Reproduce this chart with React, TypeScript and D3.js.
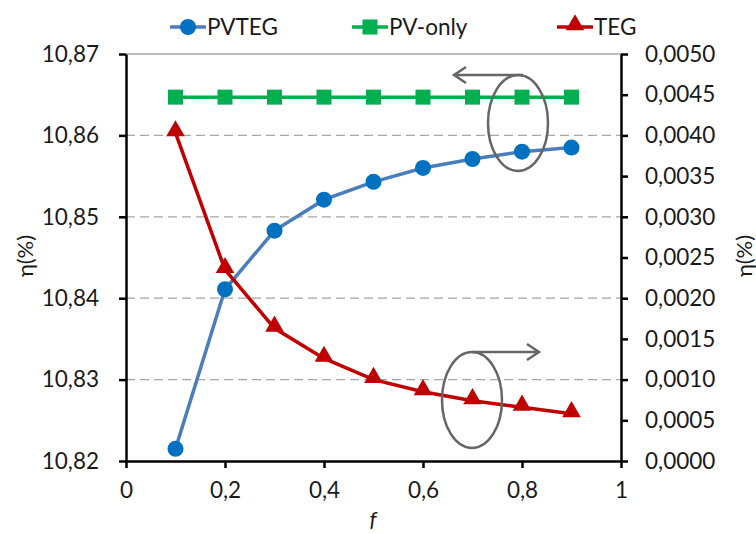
import React, { useRef, useEffect } from "react";
import * as d3 from "d3";

// chart data
const fValues = [0.1, 0.2, 0.3, 0.4, 0.5, 0.6, 0.7, 0.8, 0.9];
const pvtegValues = [10.8215, 10.8411, 10.8483, 10.8521, 10.8543, 10.856, 10.8571, 10.858, 10.8585];
const pvOnlyValues = [10.8647, 10.8647, 10.8647, 10.8647, 10.8647, 10.8647, 10.8647, 10.8647, 10.8647];
const tegValues = [0.00403, 0.00235, 0.00163, 0.00126, 0.001, 0.00085, 0.00074, 0.00066, 0.00058];
const leftTicks = [10.82, 10.83, 10.84, 10.85, 10.86, 10.87];
const rightTicks = [0, 0.0005, 0.001, 0.0015, 0.002, 0.0025, 0.003, 0.0035, 0.004, 0.0045, 0.005];
const xTicks = [0, 0.2, 0.4, 0.6, 0.8, 1];

const FONT = "Lato, 'Noto Sans', sans-serif";

const App = () => {
  const svgRef = useRef<SVGSVGElement>(null);

  useEffect(() => {
    const width = 756;
    const height = 534;
    const svg = d3.select(svgRef.current);
    svg.selectAll("*").remove();

    const left = 126;
    const right = 621;
    const top = 54;
    const bottom = 461;

    const x = d3.scaleLinear().domain([0, 1]).range([left, right]);
    const yL = d3.scaleLinear().domain([10.82, 10.87]).range([bottom, top]);
    const yR = d3.scaleLinear().domain([0, 0.005]).range([bottom, top]);
    const comma = (s: string) => s.replace(".", ",");

    // grid lines
    svg
      .append("g")
      .selectAll("line")
      .data(leftTicks.slice(1))
      .join("line")
      .attr("x1", left)
      .attr("x2", right)
      .attr("y1", (d) => yL(d))
      .attr("y2", (d) => yL(d))
      .attr("stroke", "#a6a6a6")
      .attr("stroke-width", 1.3)
      .attr("stroke-dasharray", (d) => (d === 10.87 ? null : "9,5"));

    // axes
    const axisL = svg.append("g").attr("transform", `translate(${left},0)`).call(
      d3.axisLeft(yL).tickValues(leftTicks).tickSize(7).tickSizeOuter(0).tickFormat((d) => comma(d3.format(".2f")(d as number)))
    );
    const axisR = svg.append("g").attr("transform", `translate(${right},0)`).call(
      d3.axisRight(yR).tickValues(rightTicks).tickSize(7).tickSizeOuter(0).tickFormat((d) => comma(d3.format(".4f")(d as number)))
    );
    const axisB = svg.append("g").attr("transform", `translate(0,${bottom})`).call(
      d3.axisBottom(x).tickValues(xTicks).tickSize(7).tickSizeOuter(0).tickFormat((d) => comma(String(d)))
    );
    [axisL, axisR, axisB].forEach((a) => {
      a.selectAll("path").attr("stroke", "#000").attr("stroke-width", 2.5);
      a.selectAll("line").attr("stroke", "#000").attr("stroke-width", 2.5);
      a.selectAll("text").attr("font-family", FONT).attr("font-size", 22.5).attr("fill", "#1a1a1a");
    });
    axisL.selectAll("text").attr("x", -27);
    axisR.selectAll("text").attr("x", 24);
    axisB.selectAll("text").attr("y", 21);

    // axis titles
    svg.append("text").attr("transform", `translate(25,256) rotate(-90)`).attr("text-anchor", "middle").attr("dy", "0.35em")
      .attr("font-family", FONT).attr("font-size", 22).attr("fill", "#1a1a1a").text("η(%)");
    svg.append("text").attr("transform", `translate(744,256) rotate(-90)`).attr("text-anchor", "middle").attr("dy", "0.35em")
      .attr("font-family", FONT).attr("font-size", 22).attr("fill", "#1a1a1a").text("η(%)");
    svg.append("text").attr("x", 373).attr("y", 527).attr("text-anchor", "middle")
      .attr("font-family", FONT).attr("font-style", "italic").attr("font-size", 22).attr("fill", "#1a1a1a").text("f");

    const tri = d3.symbol().type(d3.symbolTriangle).size(150);

    const series = [
      { vals: pvOnlyValues, y: yL, line: "#00b050", mark: "#00b050", shape: "square" },
      { vals: pvtegValues, y: yL, line: "#4a7ebb", mark: "#0070c0", shape: "circle" },
      { vals: tegValues, y: yR, line: "#c00000", mark: "#c00000", shape: "triangle" },
    ];

    series.forEach((s) => {
      const line = d3.line<number>().x((d, i) => x(fValues[i])).y((d) => s.y(d));
      svg.append("path").attr("d", line(s.vals)).attr("fill", "none").attr("stroke", s.line).attr("stroke-width", 3.5);
      const g = svg.append("g");
      s.vals.forEach((v, i) => {
        const cx = x(fValues[i]);
        const cy = s.y(v);
        if (s.shape === "circle") g.append("circle").attr("cx", cx).attr("cy", cy).attr("r", 8).attr("fill", s.mark);
        else if (s.shape === "square") g.append("rect").attr("x", cx - 7.5).attr("y", cy - 7.5).attr("width", 15).attr("height", 15).attr("fill", s.mark);
        else g.append("path").attr("d", tri()).attr("transform", `translate(${cx},${cy - 2})`).attr("fill", s.mark);
      });
    });

    // annotations: ellipses with arrows
    const ann = svg.append("g").attr("stroke", "#666").attr("stroke-width", 2.5).attr("fill", "none");
    ann.append("ellipse").attr("cx", 518).attr("cy", 123).attr("rx", 30).attr("ry", 48);
    ann.append("path").attr("d", "M523,75 H454 M466,67 L454,75 L466,83");
    ann.append("ellipse").attr("cx", 472).attr("cy", 400).attr("rx", 30).attr("ry", 48);
    ann.append("path").attr("d", "M472,352 H539 M527,344 L539,352 L527,360");

    // legend
    const legend = [
      { label: "PVTEG", x: 170, line: "#4a7ebb", mark: "#0070c0", shape: "circle" },
      { label: "PV-only", x: 352, line: "#00b050", mark: "#00b050", shape: "square" },
      { label: "TEG", x: 557, line: "#c00000", mark: "#c00000", shape: "triangle" },
    ];
    const lg = svg.append("g");
    legend.forEach((l) => {
      const cy = 27;
      lg.append("line").attr("x1", l.x).attr("x2", l.x + 36).attr("y1", cy).attr("y2", cy).attr("stroke", l.line).attr("stroke-width", 3.5);
      const cx = l.x + 18;
      if (l.shape === "circle") lg.append("circle").attr("cx", cx).attr("cy", cy).attr("r", 8).attr("fill", l.mark);
      else if (l.shape === "square") lg.append("rect").attr("x", cx - 7.5).attr("y", cy - 7.5).attr("width", 15).attr("height", 15).attr("fill", l.mark);
      else lg.append("path").attr("d", tri()).attr("transform", `translate(${cx},${cy - 2})`).attr("fill", l.mark);
      lg.append("text").attr("x", l.x + 37).attr("y", cy + 8).attr("font-family", FONT).attr("font-size", 22.5).attr("fill", "#1a1a1a").text(l.label);
    });

    svg.attr("width", width).attr("height", height);
  }, []);

  return (
    <div style={{ position: "absolute", left: 0, top: 0 }}>
      <svg ref={svgRef} width={756} height={534} style={{ display: "block", background: "#fff" }}></svg>
    </div>
  );
};

export default App;
